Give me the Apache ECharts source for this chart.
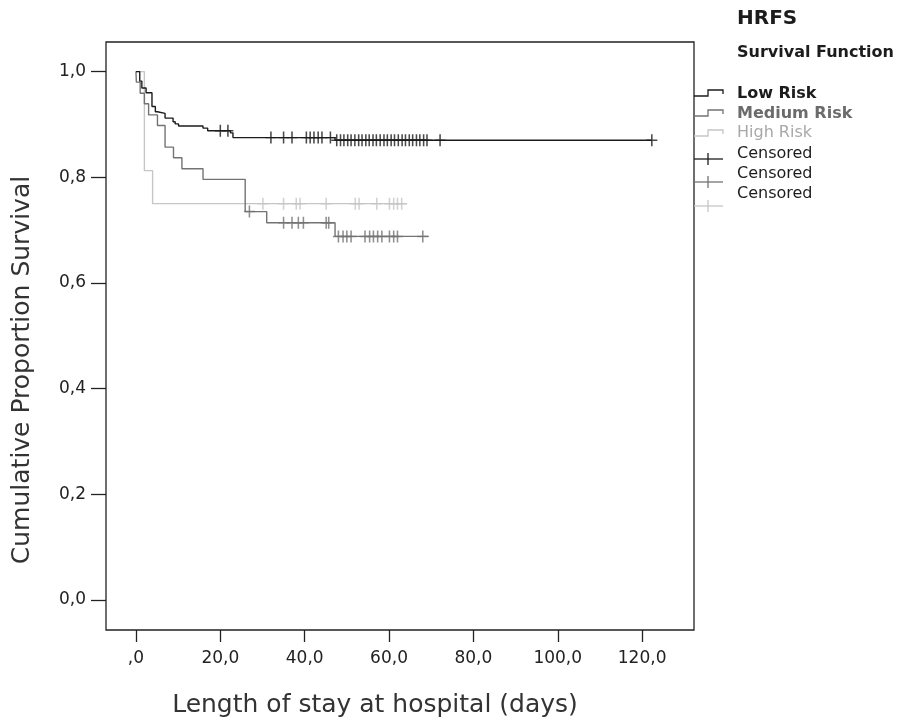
<!DOCTYPE html>
<html>
<head>
<meta charset="utf-8">
<script src="https://cdn.jsdelivr.net/npm/echarts@6/dist/echarts.min.js"></script>
<style>
html, body { margin: 0; padding: 0; background: #fff; }
#chart { width: 898px; height: 721px; }
</style>
</head>
<body>
<div id="chart"></div>
<script>
// Kaplan-Meier steps: time where the level starts, and the level after it
const lowTimes = [0, 0.9, 1.4, 2.4, 3.8, 4.6, 5.1, 6.9, 8.8, 9.3, 10.1, 15.9, 17.0, 22.4, 23.0, 47.2, 122.3]
const lowSurv  = [1.0, 0.982, 0.969, 0.960, 0.934, 0.924, 0.921, 0.912, 0.905, 0.901, 0.897, 0.893, 0.888, 0.884, 0.875, 0.870, 0.870]

const medTimes = [0, 0.1, 1.0, 2.0, 3.0, 5.1, 6.9, 8.9, 10.9, 15.9, 25.9, 31.0, 47.2, 69.4]
const medSurv  = [1.0, 0.980, 0.959, 0.939, 0.918, 0.898, 0.857, 0.837, 0.816, 0.796, 0.735, 0.714, 0.688, 0.688]

const highTimes = [0, 2.0, 3.95, 64.2]
const highSurv  = [1.0, 0.8125, 0.75, 0.75]

// censored cases (time)
const lowCensored = [20.0, 21.8, 32.0, 35.0, 37.0, 40.4, 41.3, 42.2, 43.2, 44.1, 46.1,
    47.6, 48.5, 49.3, 50.2, 51.0, 51.9, 52.8, 53.6, 54.5, 55.3, 56.2, 57.0, 57.9,
    58.8, 59.6, 60.5, 61.3, 62.2, 63.1, 63.9, 64.8, 65.6, 66.5, 67.3, 68.2, 69.0, 72.1, 122.3]
const medCensored = [26.9, 35.0, 37.0, 38.5, 39.7, 45.1, 45.7, 48.0, 49.1, 50.0, 51.0,
    54.3, 55.4, 56.3, 57.3, 58.3, 60.1, 61.1, 62.0, 68.0]
const highCensored = [30.1, 35.0, 38.0, 38.9, 45.1, 52.0, 52.9, 57.1, 60.1, 61.1, 62.0, 63.0]

const xTickValues = [0, 20, 40, 60, 80, 100, 120]
const xTickLabels = [',0', '20,0', '40,0', '60,0', '80,0', '100,0', '120,0']
const yTickValues = [0, 0.2, 0.4, 0.6, 0.8, 1.0]
const yTickLabels = ['0,0', '0,2', '0,4', '0,6', '0,8', '1,0']

const FONT = 'DejaVu Sans'
const cLow = '#1c1c1c'
const cMed = '#737373'
const cHigh = '#c6c6c6'

const pairs = (t, s) => t.map((v, i) => [v, s[i]])
// level of the curve at time t
const survAt = (times, surv, t) => {
    let s = surv[0]
    for (let i = 0; i < times.length; i++) if (times[i] <= t) s = surv[i]
    return s
}
const censorPts = (c, times, surv) => c.map(t => [t, survAt(times, surv, t)])

const plus = 'path://M4.3,0h1.4v4.4h4.3v1.2h-4.3v4.4h-1.4v-4.4h-4.3v-1.2h4.3z'

const stepLine = (name, data, color) => ({
    name, type: 'line', step: 'end', data, symbol: 'none',
    lineStyle: { color, width: 1.4 }, z: 3, animation: false
})
const censorSeries = (name, data, color) => ({
    name, type: 'scatter', data, symbol: plus, symbolSize: [11, 12],
    itemStyle: { color }, z: 4, animation: false
})

const ec = echarts.init(document.getElementById('chart'))

// legend symbols drawn next to the plot border
const stepIcon = (y, color) => ({
    type: 'polyline',
    shape: { points: [[694, y], [708, y], [708, y - 6], [723, y - 6], [723, y - 2]] },
    style: { stroke: color, lineWidth: 1.3, fill: null }
})
const crossIcon = (y, color) => ({
    type: 'group',
    children: [
        { type: 'line', shape: { x1: 694, y1: y, x2: 723, y2: y }, style: { stroke: color, lineWidth: 1.3 } },
        { type: 'line', shape: { x1: 708, y1: y - 6, x2: 708, y2: y + 6 }, style: { stroke: color, lineWidth: 1.3 } }
    ]
})
const legText = (y, text, color, weight) => ({
    type: 'text', left: 737, top: y - 9,
    style: { text, fill: color, font: `${weight} 16px "${FONT}"` }
})

const tickAxis = (min, max, values, labels, len) => ({
    type: 'value', min, max,
    axisLine: { show: false, onZero: false },
    splitLine: { show: false },
    axisTick: {
        show: true, length: len, customValues: values,
        lineStyle: { color: '#222', width: 1.3 }
    },
    axisLabel: {
        customValues: values, margin: 20,
        color: '#222', fontFamily: FONT, fontSize: 17,
        formatter: v => labels[values.findIndex(t => Math.abs(t - v) < 1e-6)]
    }
})

ec.setOption({
    backgroundColor: '#fff',
    animation: false,
    grid: {
        left: 106, right: 204, top: 42, bottom: 91,
        show: true, borderColor: '#222', borderWidth: 1.3
    },
    xAxis: tickAxis(-7.1, 132.3, xTickValues, xTickLabels, 12),
    yAxis: tickAxis(-0.057, 1.056, yTickValues, yTickLabels, 15),
    series: [
        stepLine('High Risk', pairs(highTimes, highSurv), cHigh),
        stepLine('Medium Risk', pairs(medTimes, medSurv), cMed),
        stepLine('Low Risk', pairs(lowTimes, lowSurv), cLow),
        censorSeries('Censored High', censorPts(highCensored, highTimes, highSurv), cHigh),
        censorSeries('Censored Medium', censorPts(medCensored, medTimes, medSurv), cMed),
        censorSeries('Censored Low', censorPts(lowCensored, lowTimes, lowSurv), cLow)
    ],
    graphic: [
        {
            type: 'text', left: 737, top: 9,
            style: { text: 'HRFS', fill: '#1c1c1c', font: `bold 20px "${FONT}"` }
        },
        {
            type: 'text', left: 737, top: 45,
            style: { text: 'Survival Function', fill: '#1c1c1c', font: `bold 16px "${FONT}"` }
        },
        stepIcon(96, cLow),
        stepIcon(116, cMed),
        stepIcon(136, cHigh),
        crossIcon(159, cLow),
        crossIcon(182, cMed),
        crossIcon(206, cHigh),
        legText(95, 'Low Risk', '#1c1c1c', 'bold'),
        legText(115, 'Medium Risk', '#6b6b6b', 'bold'),
        legText(134, 'High Risk', '#a8a8a8', 'normal'),
        legText(155, 'Censored', '#1c1c1c', 'normal'),
        legText(175, 'Censored', '#1c1c1c', 'normal'),
        legText(195, 'Censored', '#1c1c1c', 'normal'),
        {
            type: 'text', x: 22, y: 370, rotation: Math.PI / 2,
            style: {
                text: 'Cumulative Proportion Survival', fill: '#333',
                font: `25px "${FONT}"`, align: 'center', verticalAlign: 'middle'
            }
        },
        {
            type: 'text', x: 375, y: 705,
            style: {
                text: 'Length of stay at hospital (days)', fill: '#333',
                font: `25px "${FONT}"`, align: 'center', verticalAlign: 'middle'
            }
        }
    ]
})
</script>
</body>
</html>
